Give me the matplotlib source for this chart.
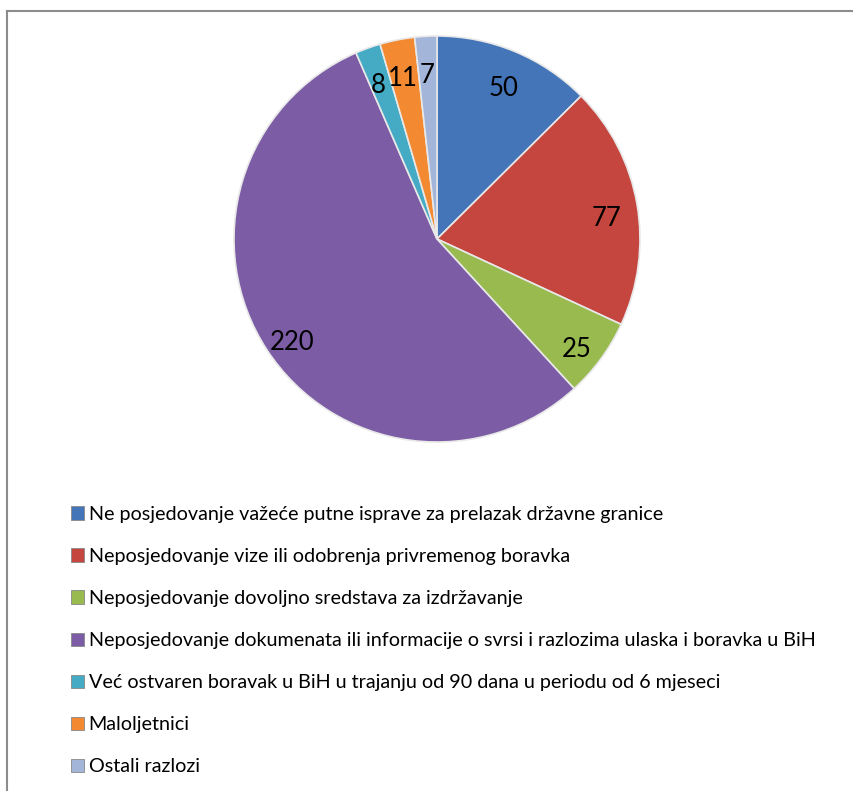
import matplotlib.pyplot as plt
from matplotlib.lines import Line2D

reasons = [
    "Ne posjedovanje važeće putne isprave za prelazak državne granice",
    "Neposjedovanje vize ili odobrenja privremenog boravka",
    "Neposjedovanje dovoljno sredstava za izdržavanje",
    "Neposjedovanje dokumenata ili informacije o svrsi i razlozima ulaska i boravka u BiH",
    "Već ostvaren boravak u BiH u trajanju od 90 dana u periodu od 6 mjeseci",
    "Maloljetnici",
    "Ostali razlozi",
]
counts = [50, 77, 25, 220, 8, 11, 7]
colors = ["#4475B8", "#C4463F", "#98BA4E", "#7C5CA4", "#45AAC4", "#F38A32", "#A3B5D8"]

W, H = 854, 791
fig = plt.figure(figsize=(W / 100, H / 100), dpi=100)

# pie centre and radius in pixels
cx, cy, R = 437, 239, 203
ax = fig.add_axes([(cx - R) / W, (H - cy - R) / H, 2 * R / W, 2 * R / H])
wedges, texts, autotexts = ax.pie(
    counts, colors=colors, startangle=90, counterclock=False,
    autopct=lambda p: "%d" % round(p * sum(counts) / 100.0),
    pctdistance=0.85,
    wedgeprops=dict(edgecolor="#e8e8e8", linewidth=1.2),
    textprops=dict(family="Lato", fontsize=18.5, color="black"),
)
# Excel draws the value labels a bit lower than the geometric spot
for t in autotexts:
    x, y = t.get_position()
    t.set_position((x, y - 0.045))
ax.set_xlim(-1, 1)
ax.set_ylim(-1, 1)
ax.set_aspect("equal")
ax.axis("off")

leg = fig.legend(
    wedges, reasons, loc="upper left",
    bbox_to_anchor=(63 / W, 1 - 498 / H),
    frameon=False, prop=dict(family="Lato", size=14.2),
    handlelength=0.65, handleheight=0.65, handletextpad=0.25,
    labelspacing=1.27, borderaxespad=0,
)
for h in leg.legend_handles:
    h.set_edgecolor("#888888")
    h.set_linewidth(0.6)

# frame lines (top and left only visible)
fig.add_artist(Line2D([7 / W, 1], [1 - 11 / H, 1 - 11 / H], color="#8c8c8c", lw=1.5))
fig.add_artist(Line2D([7 / W, 7 / W], [0, 1 - 11 / H], color="#8c8c8c", lw=1.5))

fig.savefig("out.png", dpi=100, facecolor="white")
